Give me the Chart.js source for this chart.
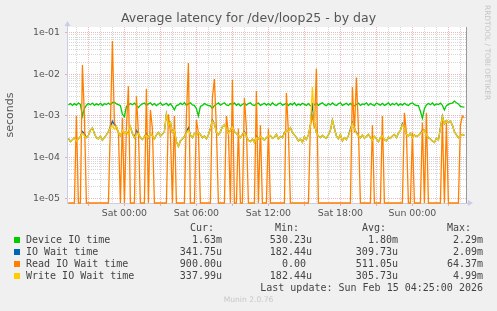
<!DOCTYPE html>
<html>
<head>
<meta charset="utf-8">
<script src="https://cdn.jsdelivr.net/npm/chart.js@4.4.1/dist/chart.umd.min.js"></script>
<style>
  html, body { margin: 0; padding: 0; background: #f0f0f0; }
  #wrap { position: relative; width: 497px; height: 311px; overflow: hidden; }
  #chart { position: absolute; left: 0; top: 0; }
  .t { position: absolute; white-space: pre; font: 10px 'DejaVu Sans Mono', monospace; line-height: 12px; color: #444; }
  .sw { position: absolute; width: 6px; height: 6px; }
  #rrd { position: absolute; left: 491px; top: 5px; font: 7.4px 'DejaVu Sans', sans-serif; line-height: 8px;
         color: #c4c4c4; transform-origin: left top; transform: rotate(90deg); white-space: nowrap; }
  #munin { position: absolute; left: 0; width: 497px; top: 295px; text-align: center;
           font: 7.6px 'DejaVu Sans', sans-serif; line-height: 10px; color: #c8c8c8; }
</style>
</head>
<body>
<div id="wrap">
  <canvas id="chart" width="497" height="311"></canvas>
  <div id="rrd">RRDTOOL / TOBI OETIKER</div>
  <div id="munin">Munin 2.0.76</div>
</div>
<script>
// samples every 10 minutes, minutes relative to Sat 00:00
const startMinute = -280;
const stepMinutes = 10;

// values in microseconds
const deviceIoUs = [
  1850,2000,1800,1980,1820,2050,1900,1000,1500,1820,2000,1870,2050,1800,1960,1850,2020,1790,1980,1880,
  2050,1850,2100,2150,1950,1880,1780,1100,960,1700,1820,2000,1860,2040,1800,1600,1820,1960,2050,1800,
  1960,2080,1830,1990,1780,1920,2060,1810,1900,2030,1790,1980,1700,1400,1780,1850,2040,1870,2080,1800,
  1960,2080,1850,1800,1500,1000,1700,1800,2000,1880,1790,1760,1500,1800,1920,2060,1820,1950,2080,1850,
  1780,2000,1880,2060,1810,1970,1760,1900,2050,1820,1990,2080,1850,1790,1960,2050,1800,1900,2030,1830,
  2000,1800,2080,1870,1780,1960,2050,1820,1900,2040,1790,1990,1860,2080,1780,1950,1830,2030,1900,1800,
  1990,1780,1750,1880,2040,1810,1960,2070,1870,1780,2000,1840,2060,1880,1790,1970,2080,1800,1900,2030,
  1820,2010,1790,1760,1900,2050,1800,1960,1880,2070,1800,1990,1870,1780,2050,1930,1820,2020,1800,1910,
  2060,1800,1990,1870,2050,1790,1960,1830,2030,1880,1800,1990,2070,1880,1790,1780,1300,880,1500,1850,
  2000,1870,2060,1800,1960,1880,2040,1800,1400,1780,1900,2020,2050,2290,2080,1950,1700,1650,1630
];
const ioWaitUs = [
  290,240,270,300,250,280,320,420,380,300,340,460,520,380,300,280,330,260,300,350,
  420,560,750,620,560,400,330,450,380,420,380,550,380,300,450,380,300,270,320,380,
  300,380,330,280,350,400,330,360,420,1100,600,700,400,450,240,185,250,280,320,400,
  520,350,300,380,330,400,360,300,330,280,350,500,800,650,400,350,420,550,620,480,
  380,450,600,420,380,340,300,360,420,320,260,240,280,230,330,280,320,290,260,300,
  330,340,290,310,360,280,320,300,400,450,420,520,400,350,300,250,280,230,320,270,
  350,600,2090,700,400,330,300,340,310,290,350,450,800,500,330,280,360,250,300,270,
  340,480,700,500,400,330,300,350,290,320,360,300,260,320,280,240,300,330,270,250,
  310,290,330,360,300,380,450,650,500,360,330,380,300,350,320,340,380,450,460,350,
  300,280,250,230,290,260,520,1000,650,780,700,750,600,420,350,300,330,360,342
];
const readWaitUs = [
  0,0,0,0,1000,0,0,17000,1000,0,0,0,0,0,0,0,0,0,0,0,
  0,600,64370,700,500,400,0,900,0,500,5200,0,0,0,3000,400,0,0,0,4500,
  0,1400,500,0,0,0,0,0,0,0,1100,400,0,1000,0,0,0,0,0,1000,
  19000,0,0,0,800,400,0,0,0,0,0,0,2800,7800,500,0,0,0,0,1000,
  400,0,7400,0,0,500,0,0,2700,500,0,0,0,0,4000,0,600,0,0,0,
  500,0,0,0,0,0,0,0,0,3600,400,0,0,0,0,0,0,0,0,0,
  0,600,1000,500,14000,0,0,0,0,0,0,0,0,0,0,0,0,0,0,0,
  0,0,5000,400,8500,500,0,0,0,0,0,0,600,0,0,0,0,1000,0,0,
  0,0,0,0,0,0,0,0,1200,400,0,0,400,0,0,0,0,700,0,1200,
  0,0,0,0,0,0,0,800,0,700,0,0,0,0,0,0,600,1000,900
];
const writeWaitUs = [
  290,240,270,300,250,280,320,380,330,300,340,460,520,380,300,280,330,260,300,350,
  420,520,600,480,560,400,330,450,380,420,350,550,380,300,350,380,300,270,320,340,
  300,380,330,280,350,400,330,360,420,1100,600,700,400,450,240,185,250,280,320,380,
  450,350,300,380,330,400,360,300,330,280,350,500,750,650,400,350,420,550,620,480,
  380,450,550,420,380,340,300,360,400,320,260,240,280,230,300,280,320,290,260,300,
  330,340,290,310,360,280,320,300,380,450,420,520,400,350,300,250,280,230,320,270,
  350,600,4990,700,400,330,300,340,310,290,350,450,800,500,330,280,360,250,300,270,
  340,450,650,500,380,330,300,350,290,320,360,300,260,320,280,240,300,330,270,250,
  310,290,330,360,300,380,450,620,500,360,330,380,300,350,320,340,380,420,460,350,
  300,280,250,230,290,260,500,970,650,780,700,750,600,420,350,300,330,360,338
];

const seriesNames = ['Device IO time', 'IO Wait time', 'Read IO Wait time', 'Write IO Wait time'];
const seriesColors = ['#00cc00', '#0066b3', '#ff8000', '#ffcc00'];
const curText = ['1.63m', '341.75u', '900.00u', '337.99u'];
const minText = ['530.23u', '182.44u', '0.00 ', '182.44u'];
const avgText = ['1.80m', '309.73u', '511.05u', '305.73u'];
const maxText = ['2.29m', '2.09m', '64.37m', '4.99m'];
const lastUpdate = 'Last update: Sun Feb 15 04:25:00 2026';

const xTickMinutes = [0, 360, 720, 1080, 1440];
const xTickLabels = ['Sat 00:00', 'Sat 06:00', 'Sat 12:00', 'Sat 18:00', 'Sun 00:00'];
const yTickValues = [1e-5, 1e-4, 1e-3, 1e-2, 1e-1];
const yTickLabels = ['1e-05', '1e-04', '1e-03', '1e-02', '1e-01'];

const xMin = -287, xMax = 1713;
const yMin = 8.0e-6, yMax = 0.1395;

const sampleMinutes = deviceIoUs.map((_, i) => startMinute + i * stepMinutes);
const toSeconds = us => Math.max(us / 1e6, yMin); // zero sits on the bottom edge like rrdtool

const minorGrid = 'rgba(165,165,165,0.45)';
const majorGrid = 'rgba(230,120,120,0.55)';
const axisColor = '#c9cde6';

const isDecade = v => Math.abs(Math.log10(v) - Math.round(Math.log10(v))) < 1e-9;

const plotDecor = {
  id: 'plotDecor',
  beforeDraw(chart) {
    const {ctx, chartArea: a} = chart;
    ctx.save();
    ctx.fillStyle = '#ffffff';
    ctx.fillRect(a.left, a.top, a.right - a.left, a.bottom - a.top);
    ctx.restore();
  },
  afterDraw(chart) {
    const {ctx, chartArea: a} = chart;
    ctx.save();
    ctx.strokeStyle = '#9a9a9a';
    ctx.lineWidth = 1;
    ctx.beginPath();
    ctx.moveTo(a.right - 0.5, a.top);
    ctx.lineTo(a.right - 0.5, a.bottom);
    ctx.stroke();
    ctx.strokeStyle = axisColor;
    ctx.beginPath();
    ctx.moveTo(a.left + 0.5, a.bottom);
    ctx.lineTo(a.left + 0.5, a.top - 3);
    ctx.stroke();
    ctx.fillStyle = axisColor;
    ctx.beginPath();
    ctx.moveTo(a.left - 2.5, a.top - 1);
    ctx.lineTo(a.left + 3.5, a.top - 1);
    ctx.lineTo(a.left + 0.5, a.top - 6);
    ctx.fill();
    ctx.beginPath();
    ctx.moveTo(a.right + 1, a.bottom - 3);
    ctx.lineTo(a.right + 1, a.bottom + 3);
    ctx.lineTo(a.right + 6, a.bottom);
    ctx.fill();
    ctx.restore();
  }
};

new Chart(document.getElementById('chart'), {
  type: 'line',
  data: {
    labels: sampleMinutes,
    datasets: [
      { label: seriesNames[0], data: deviceIoUs.map(toSeconds), borderColor: seriesColors[0], order: 3 },
      { label: seriesNames[1], data: ioWaitUs.map(toSeconds), borderColor: seriesColors[1], order: 2 },
      { label: seriesNames[2], data: readWaitUs.map(toSeconds), borderColor: seriesColors[2], order: 1, clip: 1 },
      { label: seriesNames[3], data: writeWaitUs.map(toSeconds), borderColor: seriesColors[3], order: 0 }
    ]
  },
  options: {
    responsive: false,
    animation: false,
    layout: { padding: { left: 0, right: 0, top: 0, bottom: 88 } },
    elements: { point: { radius: 0 }, line: { borderWidth: 1.3, tension: 0 } },
    plugins: {
      legend: { display: false },
      tooltip: { enabled: false },
      title: {
        display: true,
        text: 'Average latency for /dev/loop25 - by day',
        color: '#555',
        font: { family: 'DejaVu Sans', size: 12.5, weight: 'normal' },
        padding: { top: 11.5, bottom: 0.5 }
      }
    },
    scales: {
      x: {
        type: 'linear',
        min: xMin,
        max: xMax,
        afterBuildTicks: scale => {
          const ticks = [];
          for (let m = -240; m <= 1680; m += 60) ticks.push({ value: m });
          scale.ticks = ticks;
        },
        afterFit: scale => { scale.height = 20; },
        ticks: {
          autoSkip: false,
          maxRotation: 0,
          padding: 2,
          color: '#555',
          font: { family: 'DejaVu Sans', size: 9.4 },
          callback: v => {
            const k = xTickMinutes.indexOf(v);
            return k >= 0 ? xTickLabels[k] : '';
          }
        },
        grid: {
          color: c => (c.tick && c.tick.value % 180 === 0) ? majorGrid : minorGrid,
          tickColor: c => (c.tick && c.tick.value % 180 === 0) ? majorGrid : 'rgba(0,0,0,0)',
          tickLength: 3,
          lineWidth: 1
        },
        border: { display: true, color: axisColor, dash: [1, 1] }
      },
      y: {
        type: 'logarithmic',
        min: yMin,
        max: yMax,
        afterBuildTicks: scale => {
          const ticks = [];
          for (let e = -5; e <= -2; e++) {
            for (let m = 1; m <= 9; m++) ticks.push({ value: m * Math.pow(10, e) });
          }
          ticks.push({ value: 0.1 });
          scale.ticks = ticks;
        },
        afterFit: scale => { scale.width = 67; },
        title: {
          display: true,
          text: 'seconds',
          color: '#555',
          font: { family: 'DejaVu Sans', size: 11 },
          padding: { top: 4, bottom: 0 }
        },
        ticks: {
          autoSkip: false,
          padding: 5,
          color: '#555',
          font: { family: 'DejaVu Sans', size: 9.4 },
          callback: v => {
            const k = yTickValues.findIndex(t => Math.abs(t - v) / t < 1e-6);
            return k >= 0 ? yTickLabels[k] : '';
          }
        },
        grid: {
          color: c => (c.tick && isDecade(c.tick.value)) ? majorGrid : minorGrid,
          tickColor: c => (c.tick && isDecade(c.tick.value)) ? majorGrid : 'rgba(0,0,0,0)',
          tickLength: 2,
          lineWidth: 1
        },
        border: { display: false, dash: [1, 1] }
      },
      // empty strip on the right so the title centres on the whole image
      side: {
        position: 'right',
        display: true,
        afterFit: scale => { scale.width = 30; },
        grid: { display: false },
        ticks: { display: false },
        border: { display: false }
      }
    }
  },
  plugins: [plotDecor]
});

// legend table under the plot, laid out like the munin one
const wrap = document.getElementById('wrap');
function addText(text, opts) {
  const d = document.createElement('div');
  d.className = 't';
  d.textContent = text;
  d.style.top = opts.top + 'px';
  if (opts.left !== undefined) d.style.left = opts.left + 'px';
  if (opts.right !== undefined) d.style.right = (497 - opts.right) + 'px';
  wrap.appendChild(d);
}
const headerTop = 222;
addText('Cur:', { left: 190, top: headerTop });
addText('Min:', { left: 275, top: headerTop });
addText('Avg:', { left: 362, top: headerTop });
addText('Max:', { left: 447, top: headerTop });
seriesNames.forEach((name, i) => {
  const top = 234 + i * 12;
  const sw = document.createElement('div');
  sw.className = 'sw';
  sw.style.left = '14px';
  sw.style.top = (top + 3) + 'px';
  sw.style.background = seriesColors[i];
  wrap.appendChild(sw);
  addText(name, { left: 26, top: top });
  addText(curText[i], { right: 222, top: top });
  addText(minText[i], { right: 312, top: top });
  addText(avgText[i], { right: 398, top: top });
  addText(maxText[i], { right: 483, top: top });
});
addText(lastUpdate, { right: 483, top: 282 });
</script>
</body>
</html>
